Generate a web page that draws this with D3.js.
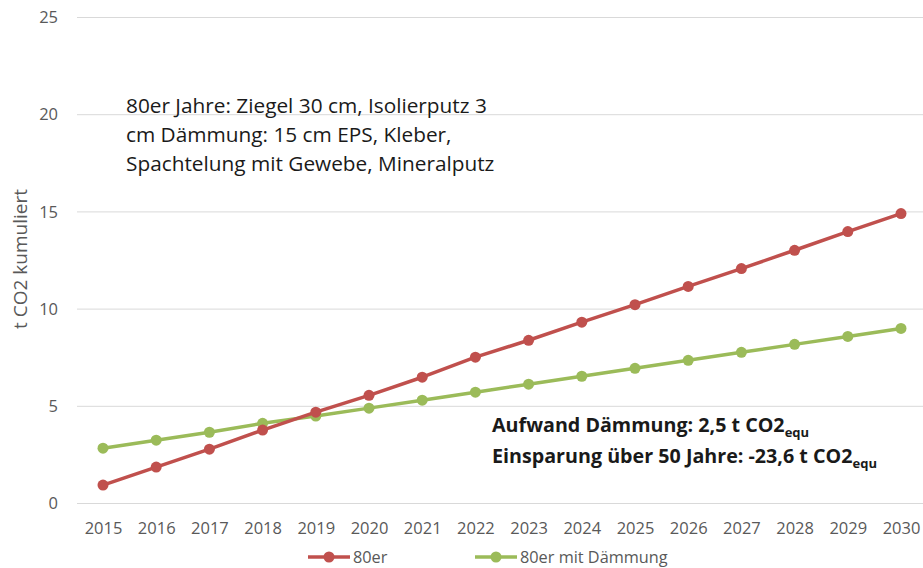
<!DOCTYPE html>
<html>
<head>
<meta charset="utf-8">
<script src="https://cdn.jsdelivr.net/npm/d3@7"></script>
<style>
  body { margin: 0; background: #fff; }
  svg { display: block; font-family: "Open Sans", "Lato", sans-serif; }
  .axis text { fill: #595959; font-size: 16.5px; font-family: "Open Sans", "Lato", sans-serif; }
  .axis path { display: none; }
  .axis line { stroke: #d9d9d9; }
</style>
</head>
<body>
<div id="vis"></div>
<script>
const years = [2015, 2016, 2017, 2018, 2019, 2020, 2021, 2022, 2023, 2024, 2025, 2026, 2027, 2028, 2029, 2030]
const values80er = [0.92, 1.85, 2.77, 3.75, 4.67, 5.54, 6.47, 7.5, 8.37, 9.3, 10.2, 11.14, 12.06, 13.0, 13.96, 14.89]
const values80erDaemmung = [2.82, 3.23, 3.64, 4.1, 4.47, 4.88, 5.29, 5.7, 6.11, 6.52, 6.93, 7.34, 7.75, 8.16, 8.57, 8.98]
const yTicks = [0, 5, 10, 15, 20, 25]
const seriesNames = ['80er', '80er mit Dämmung']
const colors = ['#c0504d', '#9bbb59']

const width = 923
const height = 568

const svg = d3.select('#vis')
    .append('svg')
    .attr('width', width)
    .attr('height', height)

// category centers: 2015 at ~103, 2030 at ~901
let xScale = d3.scalePoint()
    .domain(years)
    .range([103, 901])

let yScale = d3.scaleLinear()
    .domain([0, 25])
    .range([503, 17])

// gridlines + y labels
let yAxis = svg.append('g')
    .attr('class', 'axis')
    .attr('transform', 'translate(77,0)')
    .call(d3.axisRight(yScale).tickValues(yTicks).tickSize(846).tickFormat(d => d))
yAxis.selectAll('text')
    .attr('x', -19)
    .attr('text-anchor', 'end')
    .attr('dy', '0.35em')

let xAxis = svg.append('g')
    .attr('class', 'axis')
    .attr('transform', 'translate(0,503)')
    .call(d3.axisBottom(xScale).tickSize(0).tickPadding(19).tickFormat(d => d))

// y axis label
svg.append('text')
    .attr('transform', 'rotate(-90)')
    .attr('x', -259)
    .attr('y', 27)
    .attr('text-anchor', 'middle')
    .style('font-size', '19px')
    .style('fill', '#595959')
    .text('t CO2 kumuliert')

const series = [values80er, values80erDaemmung]
const line = d3.line()
    .x((d, i) => xScale(years[i]))
    .y(d => yScale(d))

// green first, red drawn on top
const order = [1, 0]
order.forEach(s => {
    svg.append('path')
        .datum(series[s])
        .attr('d', line)
        .attr('fill', 'none')
        .attr('stroke', colors[s])
        .attr('stroke-width', 3.5)
        .attr('stroke-linejoin', 'round')

    svg.selectAll('.pt' + s)
        .data(series[s])
        .enter()
        .append('circle')
        .attr('class', 'pt' + s)
        .attr('cx', (d, i) => xScale(years[i]))
        .attr('cy', d => yScale(d))
        .attr('r', 5.5)
        .attr('fill', colors[s])
})

// annotation block 1
const note1 = [
    '80er Jahre: Ziegel 30 cm, Isolierputz 3',
    'cm Dämmung: 15 cm EPS, Kleber,',
    'Spachtelung mit Gewebe, Mineralputz'
]
svg.selectAll('.note1')
    .data(note1)
    .enter()
    .append('text')
    .attr('x', 126)
    .attr('y', (d, i) => 113 + i * 29)
    .style('font-size', '20.8px')
    .style('fill', '#1a1a1a')
    .text(d => d)

// annotation block 2
const note2 = [
    ['Aufwand Dämmung: 2,5 t CO2', 'equ'],
    ['Einsparung über 50 Jahre: -23,6 t CO2', 'equ']
]
note2.forEach((d, i) => {
    let t = svg.append('text')
        .attr('x', 492)
        .attr('y', 432 + i * 31)
        .style('font-size', '19.7px')
        .style('font-weight', 'bold')
        .style('fill', '#1a1a1a')
    t.append('tspan').text(d[0])
    t.append('tspan').attr('dy', 5).style('font-size', '13px').text(d[1])
})

// legend
const legendX = [308, 475]
seriesNames.forEach((name, i) => {
    let g = svg.append('g').attr('transform', `translate(${legendX[i]},557)`)
    g.append('line')
        .attr('x1', 0).attr('x2', 42)
        .attr('stroke', colors[i])
        .attr('stroke-width', 3.5)
    g.append('circle')
        .attr('cx', 21)
        .attr('r', 5.5)
        .attr('fill', colors[i])
    g.append('text')
        .attr('x', 45)
        .attr('dy', '0.35em')
        .style('font-size', '16.3px')
        .style('fill', '#595959')
        .text(name)
})
</script>
</body>
</html>
